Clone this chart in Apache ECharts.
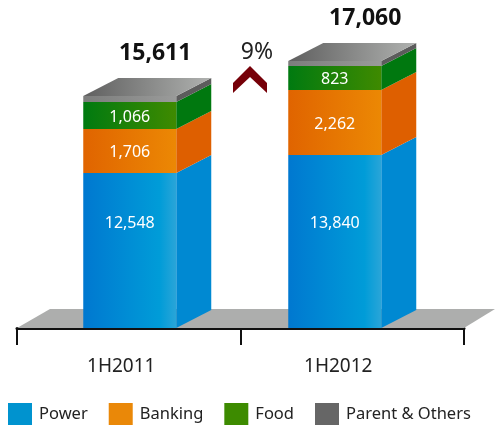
<!DOCTYPE html>
<html>
<head>
<meta charset="utf-8">
<script src="https://cdn.jsdelivr.net/npm/echarts@6/dist/echarts.min.js"></script>
<style>
  html, body { margin: 0; padding: 0; background: #fff; }
  #main { width: 495px; height: 427px; }
</style>
</head>
<body>
<div id="main"></div>
<script>
var categories = ['1H2011', '1H2012'];
var seriesNames = ['Power', 'Banking', 'Food', 'Parent & Others'];

// printed on the bars
var powerLabels = ['12,548', '13,840'];
var bankingLabels = ['1,706', '2,262'];
var foodLabels = ['1,066', '823'];
var totalLabels = ['15,611', '17,060'];

// the original bars are not to scale with their printed numbers,
// so these are the drawn heights, in axis units
var powerDrawn = [9904, 11054];
var bankingDrawn = [2812, 4153];
var foodDrawn = [1725, 1534];
var parentDrawn = [383, 319];

var FONT = '"Noto Sans", sans-serif';
var BAR_W = 93;
var DEPTH_X = 35;
var DEPTH_Y = 18;
var barShift = [1, -17.5];
var totalShift = [25.5, 30.5];
var POWER_LABEL_AT = 6700;

function grad(stops) {
  return new echarts.graphic.LinearGradient(0, 0, 1, 0, stops.map(function (s) {
    return { offset: s[0], color: s[1] };
  }));
}

function cuboid(opts) {
  return function (params, api) {
    var i = api.value(0);
    var base = api.coord([i, api.value(1)]);
    var top = api.coord([i, api.value(2)]);
    var x0 = base[0] + barShift[i] - BAR_W / 2;
    var x1 = x0 + BAR_W;
    var yb = base[1];
    var yt = top[1];
    var kids = [
      {
        type: 'polygon',
        shape: { points: [[x1, yb], [x1 + DEPTH_X, yb - DEPTH_Y], [x1 + DEPTH_X, yt - DEPTH_Y], [x1, yt]] },
        style: { fill: opts.side }
      },
      {
        type: 'rect',
        shape: { x: x0, y: yt, width: BAR_W, height: yb - yt },
        style: { fill: opts.front }
      }
    ];
    if (opts.top) {
      kids.push({
        type: 'polygon',
        shape: { points: [[x0, yt], [x0 + DEPTH_X, yt - DEPTH_Y], [x1 + DEPTH_X, yt - DEPTH_Y], [x1, yt]] },
        style: { fill: opts.top }
      });
      kids.push({
        type: 'text',
        style: {
          text: totalLabels[i],
          x: x0 + BAR_W / 2 + totalShift[i],
          y: yt - DEPTH_Y - 25,
          align: 'center',
          verticalAlign: 'middle',
          fill: '#111',
          font: 'bold 23px ' + FONT
        }
      });
    }
    if (opts.labels) {
      var ly = opts.labelAt ? api.coord([i, opts.labelAt])[1] : (yb + yt) / 2 + 1.5;
      kids.push({
        type: 'text',
        style: {
          text: opts.labels[i],
          x: x0 + BAR_W / 2,
          y: ly,
          align: 'center',
          verticalAlign: 'middle',
          fill: '#fff',
          font: '16px ' + FONT
        }
      });
    }
    return { type: 'group', children: kids };
  };
}

function floor(params, api) {
  var c = params.coordSys;
  var yb = c.y + c.height;
  return {
    type: 'polygon',
    shape: { points: [[c.x, yb], [c.x + 33, yb - 19], [495, yb - 19], [c.x + c.width, yb]] },
    style: { fill: '#adaead' }
  };
}

// running totals so each block sits on the one below
var bottoms = [0, 0];
function stackRows(values) {
  var rows = [];
  for (var i = 0; i < values.length; i++) {
    rows.push([i, bottoms[i], bottoms[i] + values[i]]);
    bottoms[i] += values[i];
  }
  return rows;
}

function blockSeries(name, color, values, opts) {
  return {
    name: name,
    type: 'custom',
    itemStyle: { color: color },
    encode: { x: 0, y: 2 },
    data: stackRows(values),
    z: 3,
    renderItem: cuboid(opts)
  };
}

var chart = echarts.init(document.getElementById('main'));
var option = {
  animation: false,
  grid: { left: 17, width: 447, top: 15, height: 313 },
  xAxis: {
    type: 'category',
    data: categories,
    offset: 1,
    axisLine: { lineStyle: { color: '#111', width: 3 } },
    axisTick: { show: true, length: 17, lineStyle: { color: '#111', width: 2 } },
    axisLabel: {
      margin: 28,
      formatter: function (v, i) { return '{c' + i + '|' + v + '}'; },
      rich: {
        c0: { fontFamily: 'Noto Sans', fontSize: 19, color: '#222', padding: [0, 15, 0, 0] },
        c1: { fontFamily: 'Noto Sans', fontSize: 19, color: '#222', padding: [0, 28, 0, 0] }
      }
    }
  },
  yAxis: { type: 'value', min: 0, max: 20000, show: false },
  legend: {
    left: 8,
    top: 403,
    padding: 0,
    itemWidth: 24,
    itemHeight: 22,
    itemGap: 21,
    icon: 'rect',
    data: seriesNames,
    selectedMode: false,
    textStyle: { fontFamily: 'Noto Sans', fontSize: 16.5, color: '#222', padding: [0, 0, 0, 2] }
  },
  graphic: [
    {
      type: 'text',
      style: { text: '9%', x: 257, y: 52, align: 'center', verticalAlign: 'middle', fill: '#222', font: '23px ' + FONT }
    },
    {
      type: 'polygon',
      shape: { points: [[250, 66], [267, 83], [267, 93], [250, 77], [233, 93], [233, 83]] },
      style: { fill: '#760008' }
    }
  ],
  series: [
    { type: 'custom', data: [[0, 0]], silent: true, z: 1, renderItem: floor },
    blockSeries(seriesNames[0], '#0093cf', powerDrawn, {
      front: grad([[0, '#0078d0'], [0.82, '#009cd8'], [1, '#2aa5d8']]), side: '#0089d2', labels: powerLabels, labelAt: POWER_LABEL_AT
    }),
    blockSeries(seriesNames[1], '#ea8808', bankingDrawn, {
      front: grad([[0, '#e06400'], [1, '#ec8804']]), side: '#de5f00', labels: bankingLabels
    }),
    blockSeries(seriesNames[2], '#3d8b00', foodDrawn, {
      front: grad([[0, '#007a10'], [1, '#3f8a00']]), side: '#00780f', labels: foodLabels
    }),
    blockSeries(seriesNames[3], '#666666', parentDrawn, {
      front: grad([[0, '#7c7d7c'], [1, '#9a9b9a']]), side: '#5c5c5c', top: grad([[0, '#5f5f5f'], [1, '#b0b2b0']])
    })
  ]
};
chart.setOption(option);
</script>
</body>
</html>
